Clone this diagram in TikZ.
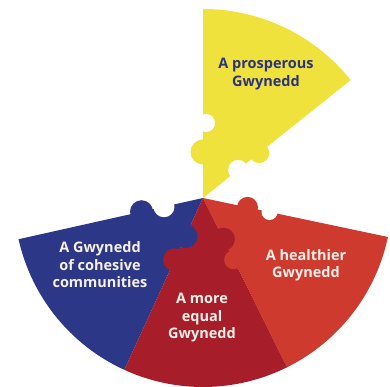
\documentclass[tikz,border=0pt]{standalone}
\usepackage{fontspec}
\setmainfont{Open Sans}
\usepackage{tikz}
\definecolor{gwyellow}{HTML}{F0E23C}
\definecolor{gwblue}{HTML}{2C3887}
\definecolor{gwdarkred}{HTML}{A71D2A}
\definecolor{gwred}{HTML}{CF3A2E}
\definecolor{gwcream}{HTML}{F6F0E8}
\definecolor{gwnavy}{HTML}{2B3280}

\begin{document}
\begin{tikzpicture}[
			x=1pt,y=1pt,
			lbl/.style={align=center,font=\bfseries\fontsize{14.5}{17.5}\selectfont,text=gwcream},
			hole/.style={fill=white}
			]
			\useasboundingbox (-203,-189) rectangle (187,198);
			% the four pieces
			\fill[gwblue] (0,0) -- (192.6:189) arc[start angle=192.6,end angle=245.4,radius=189] -- cycle;
			\fill[gwred] (0,0) -- (296.4:189) arc[start angle=296.4,end angle=348.1,radius=189] -- cycle;
			\fill[gwdarkred] (0,0) -- (245.4:189) arc[start angle=245.4,end angle=296.4,radius=189] -- cycle;
			\fill[gwyellow] (0,0) -- (38.6:189) arc[start angle=38.6,end angle=90,radius=189] -- cycle;
			% knobs
			\fill[gwblue] (245.4:42) circle[radius=12];
			\fill[gwred] (296.4:69) circle[radius=9.5];
			\fill[gwdarkred] (245.4:68) circle[radius=11.5];
			\fill[gwdarkred] (296.4:46) circle[radius=11.5];
			\fill[gwblue] (192.6:63) circle[radius=11.5];
			\fill[gwred] (-11.9:45.5) circle[radius=10.5];
			\fill[gwyellow] (90:46) circle[radius=12.5];
			\fill[gwyellow] (38.6:72) circle[radius=10];
			% sockets
			\fill[hole] (3,75) circle[radius=9];
			\fill[hole] (38.6:45) circle[radius=10];
			\fill[hole] (192.6:40) circle[radius=10.5];
			\fill[hole] (-11.9:68) circle[radius=8];
			% labels
			\node[lbl,text=gwnavy] (prosper) at (63,124) {A prosperous\\Gwynedd};
			\node[lbl] (cohesive) at (-103,-67) {A Gwynedd\\of cohesive\\communities};
			\node[lbl] (healthy) at (103,-67) {A healthier\\Gwynedd};
			\node[lbl] (equal) at (-1,-120) {A more\\equal\\Gwynedd};
		\end{tikzpicture}
\end{document}
